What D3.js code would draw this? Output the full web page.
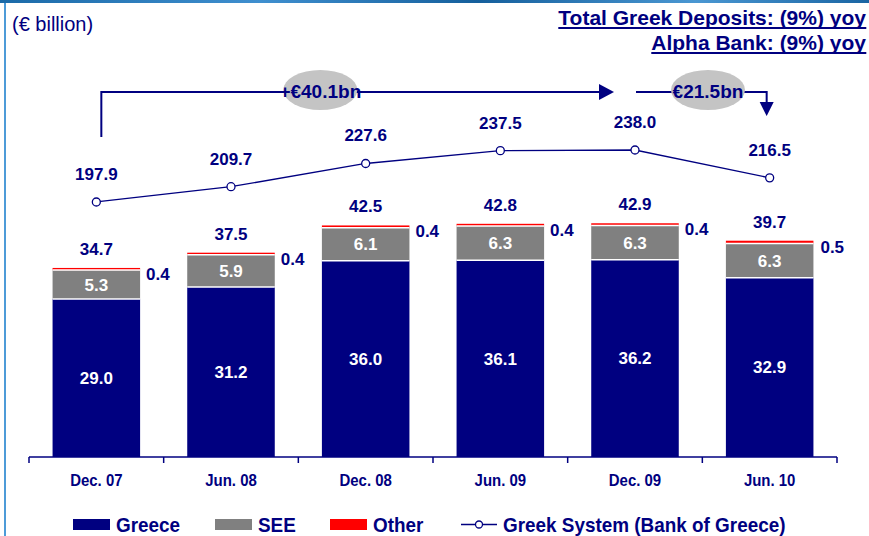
<!DOCTYPE html>
<html>
<head>
<meta charset="utf-8">
<script src="https://cdn.jsdelivr.net/npm/d3@7/dist/d3.min.js"></script>
<style>
  html, body { margin: 0; padding: 0; background: #fff; }
  svg { display: block; }
  text { font-family: "Liberation Sans", Arial, sans-serif; }
</style>
</head>
<body>
<svg id="chart" width="869" height="536"></svg>
<script>
// Deposits by region (€ billion)
const categories = ["Dec. 07", "Jun. 08", "Dec. 08", "Jun. 09", "Dec. 09", "Jun. 10"];
const greece = [29.0, 31.2, 36.0, 36.1, 36.2, 32.9];
const see    = [5.3, 5.9, 6.1, 6.3, 6.3, 6.3];
const other  = [0.4, 0.4, 0.4, 0.4, 0.4, 0.5];
const totals = [34.7, 37.5, 42.5, 42.8, 42.9, 39.7];
// Greek banking system deposits (Bank of Greece)
const system = [197.9, 209.7, 227.6, 237.5, 238.0, 216.5];
const growthLabels = ["+€40.1bn", "€21.5bn"];
const headlines = ["Total Greek Deposits: (9%) yoy", "Alpha Bank: (9%) yoy"];
const unitLabel = "(€ billion)";
const seriesNames = ["Greece", "SEE", "Other", "Greek System (Bank of Greece)"];

const NAVY = "#000080", GREY = "#808080", RED = "#ff0000";
const svg = d3.select("#chart");

// frame: thin textured strip at the top, light rule on the left
const grad = svg.append("defs").append("linearGradient").attr("id", "topStrip");
[["0%", "#1b6aa8"], ["30%", "#3f8fcf"], ["55%", "#155f9c"], ["80%", "#4a97d2"], ["100%", "#1a65a3"]]
  .forEach(([o, c]) => grad.append("stop").attr("offset", o).attr("stop-color", c));
svg.append("rect").attr("x", 0).attr("y", 0).attr("width", 869).attr("height", 3).attr("fill", "url(#topStrip)");
svg.append("line").attr("x1", 5).attr("x2", 5).attr("y1", 3).attr("y2", 536)
  .attr("stroke", "#4d9bd8").attr("stroke-width", 2);

// scales
const x = d3.scaleBand().domain(categories).range([29, 837]).paddingInner(0.35).paddingOuter(0.175);
const y = d3.scaleLinear().domain([0, 29.0]).range([457, 299]);
const yLine = d3.scaleLinear().domain([0, 238.0]).range([458.5, 150]);

// stacked bars
const rows = categories.map((c, i) => ({ cat: c, Greece: greece[i], SEE: see[i], Other: other[i] }));
const stack = d3.stack().keys(["Greece", "SEE", "Other"])(rows);
const colors = { Greece: NAVY, SEE: GREY, Other: RED };

const g = svg.append("g");
stack.forEach(layer => {
  g.selectAll(null).data(layer).enter().append("rect")
    .attr("x", d => x(d.data.cat))
    .attr("width", x.bandwidth())
    .attr("y", d => y(d[1]))
    .attr("height", d => y(d[0]) - y(d[1]))
    .attr("fill", colors[layer.key]);
});
// white separators between segments
stack.slice(0, 2).forEach(layer => {
  g.selectAll(null).data(layer).enter().append("line")
    .attr("x1", d => x(d.data.cat)).attr("x2", d => x(d.data.cat) + x.bandwidth())
    .attr("y1", d => y(d[1])).attr("y2", d => y(d[1]))
    .attr("stroke", "#fff").attr("stroke-width", 1.5);
});

// segment labels
const labelFont = 17;
stack[0].forEach((d, i) => {
  g.append("text").attr("x", x(d.data.cat) + x.bandwidth() / 2).attr("y", (y(d[0]) + y(d[1])) / 2 + 6)
    .attr("text-anchor", "middle").attr("font-weight", "bold").attr("font-size", labelFont)
    .attr("fill", "#fff").text(greece[i].toFixed(1));
});
stack[1].forEach((d, i) => {
  g.append("text").attr("x", x(d.data.cat) + x.bandwidth() / 2).attr("y", (y(d[0]) + y(d[1])) / 2 + 6)
    .attr("text-anchor", "middle").attr("font-weight", "bold").attr("font-size", labelFont)
    .attr("fill", "#fff").text(see[i].toFixed(1));
});
stack[2].forEach((d, i) => {
  g.append("text").attr("x", x(d.data.cat) + x.bandwidth() + (i === 5 ? 7 : 6)).attr("y", y(d[1]) + 12)
    .attr("font-weight", "bold").attr("font-size", labelFont)
    .attr("fill", NAVY).text(other[i].toFixed(1));
});
// totals above bars
totals.forEach((t, i) => {
  g.append("text").attr("x", x(categories[i]) + x.bandwidth() / 2).attr("y", y(t) - 13)
    .attr("text-anchor", "middle").attr("font-weight", "bold").attr("font-size", labelFont)
    .attr("fill", NAVY).text(t.toFixed(1));
});

// x axis
const axisY = 457;
const axis = svg.append("g");
axis.append("line").attr("x1", 29).attr("x2", 837).attr("y1", axisY).attr("y2", axisY)
  .attr("stroke", NAVY).attr("stroke-width", 1.5);
const step = x.step();
d3.range(categories.length + 1).forEach(k => {
  const tx = 29 + k * step;
  axis.append("line").attr("x1", tx).attr("x2", tx).attr("y1", axisY).attr("y2", axisY + 6)
    .attr("stroke", NAVY).attr("stroke-width", 1.5);
});
categories.forEach(c => {
  const cx = x(c) + x.bandwidth() / 2;
  axis.append("text").attr("transform", `translate(${cx},486) scale(0.88,1)`)
    .attr("text-anchor", "middle").attr("font-weight", "bold").attr("font-size", 17)
    .attr("fill", NAVY).text(c);
});

// Greek system line
const line = d3.line().x((d, i) => x(categories[i]) + x.bandwidth() / 2).y(d => yLine(d));
svg.append("path").datum(system).attr("d", line).attr("fill", "none")
  .attr("stroke", NAVY).attr("stroke-width", 1.3);
system.forEach((v, i) => {
  const cx = x(categories[i]) + x.bandwidth() / 2;
  svg.append("circle").attr("cx", cx).attr("cy", yLine(v)).attr("r", 4)
    .attr("fill", "#fff").attr("stroke", NAVY).attr("stroke-width", 1.3);
  svg.append("text").attr("x", cx).attr("y", yLine(v) - 22)
    .attr("text-anchor", "middle").attr("font-weight", "bold").attr("font-size", labelFont)
    .attr("fill", NAVY).text(v.toFixed(1));
});

// growth annotations
const ann = svg.append("g");
const cx0 = x(categories[0]) + x.bandwidth() / 2;
const cx4 = x(categories[4]) + x.bandwidth() / 2;
const cx5 = x(categories[5]) + x.bandwidth() / 2;
const arrowY = 92;
ann.append("path")
  .attr("d", `M${cx0 + 5},137V${arrowY}H${cx4 - 35}`)
  .attr("fill", "none").attr("stroke", NAVY).attr("stroke-width", 2);
ann.append("path")
  .attr("d", `M${cx4 - 36},${arrowY - 8}L${cx4 - 21},${arrowY}L${cx4 - 36},${arrowY + 8}Z`).attr("fill", NAVY);
ann.append("path")
  .attr("d", `M${cx4 + 1},${arrowY}H${cx5 - 3}V${arrowY + 12}`)
  .attr("fill", "none").attr("stroke", NAVY).attr("stroke-width", 2);
ann.append("path")
  .attr("d", `M${cx5 - 10},${arrowY + 10}L${cx5 - 3},${arrowY + 24}L${cx5 + 4},${arrowY + 10}Z`).attr("fill", NAVY);
[[cx0 + 224, growthLabels[0]], [cx4 + 73, growthLabels[1]]].forEach(([ex, t]) => {
  ann.append("ellipse").attr("cx", ex).attr("cy", 90).attr("rx", 37).attr("ry", 20).attr("fill", "#c4c4c4");
  ann.append("text").attr("x", ex).attr("y", 98).attr("text-anchor", "middle")
    .attr("font-weight", "bold").attr("font-size", 19).attr("fill", NAVY).text(t);
});

// headings
svg.append("text").attr("x", 12).attr("y", 31).attr("font-size", 20).attr("fill", NAVY).text(unitLabel);
headlines.forEach((h, i) => {
  const by = 25 + i * 25;
  const t = svg.append("text").attr("x", 866).attr("y", by).attr("text-anchor", "end")
    .attr("font-weight", "bold").attr("font-size", 21).attr("fill", NAVY).text(h);
  const bb = t.node().getBBox();
  svg.append("line").attr("x1", bb.x).attr("x2", bb.x + bb.width)
    .attr("y1", by + 3).attr("y2", by + 3)
    .attr("stroke", NAVY).attr("stroke-width", 2);
});

// legend
const leg = svg.append("g");
const legItems = [
  { name: seriesNames[0], x: 73, color: NAVY },
  { name: seriesNames[1], x: 215, color: GREY },
  { name: seriesNames[2], x: 330, color: RED },
];
const legText = (lx, name) => leg.append("text")
  .attr("transform", `translate(${lx},532) scale(0.9,1)`)
  .attr("font-weight", "bold").attr("font-size", 21).attr("fill", NAVY).text(name);
legItems.forEach(it => {
  leg.append("rect").attr("x", it.x).attr("y", 519).attr("width", 37).attr("height", 11).attr("fill", it.color);
  legText(it.x + 43, it.name);
});
leg.append("line").attr("x1", 461).attr("x2", 497).attr("y1", 524.5).attr("y2", 524.5)
  .attr("stroke", NAVY).attr("stroke-width", 1.3);
leg.append("circle").attr("cx", 479).attr("cy", 524.5).attr("r", 3.5)
  .attr("fill", "#fff").attr("stroke", NAVY).attr("stroke-width", 1.3);
legText(503, seriesNames[3]);
</script>
</body>
</html>
